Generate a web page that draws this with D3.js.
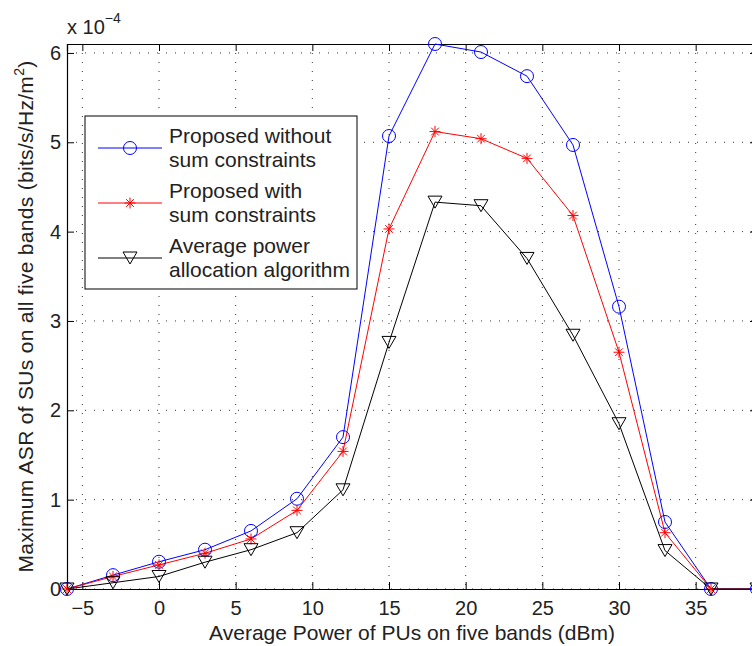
<!DOCTYPE html>
<html><head><meta charset="utf-8">
<script src="https://d3js.org/d3.v7.min.js"></script>
<style>
html,body{margin:0;padding:0;background:#fff;}
svg text{font-family:"Liberation Sans",Arial,Helvetica,sans-serif;fill:#222;}
</style></head>
<body><svg id="c" width="752" height="646"></svg>
<script>
const xValues = [-6,-3,0,3,6,9,12,15,18,21,24,27,30,33,36,39];
const blueValues  = [0,0.155,0.305,0.44,0.65,1.01,1.70,5.07,6.10,6.01,5.74,4.97,3.16,0.75,0,0];
const redValues   = [0,0.14,0.27,0.40,0.56,0.88,1.54,4.03,5.12,5.04,4.82,4.18,2.65,0.63,0,0];
const blackValues = [0,0.07,0.14,0.30,0.44,0.63,1.11,2.76,4.33,4.29,3.70,2.84,1.85,0.43,0,0];
const xTicks = [-5,0,5,10,15,20,25,30,35];
const yTicks = [0,1,2,3,4,5,6];
const seriesNames = [["Proposed without","sum constraints"],["Proposed with","sum constraints"],["Average power","allocation algorithm"]];

const FS = "20px", FL = "21px";
const svg = d3.select("#c");
const L=67, R=757, T=44, B=589;
const x = d3.scaleLinear().domain([-6,39]).range([L,R]);
const y = d3.scaleLinear().domain([0,6.1]).range([B,T]);

// grid
const g = svg.append("g");
g.selectAll(".gx").data(xTicks).enter().append("line")
  .attr("x1",d=>x(d)).attr("x2",d=>x(d)).attr("y1",T).attr("y2",B)
  .attr("stroke","#333").attr("stroke-width",1).attr("stroke-dasharray","1,8");
g.selectAll(".gy").data(yTicks).enter().append("line")
  .attr("x1",L).attr("x2",R).attr("y1",d=>y(d)).attr("y2",d=>y(d))
  .attr("stroke","#333").attr("stroke-width",1).attr("stroke-dasharray","1,8");

// axes
const xb = d3.axisBottom(x).tickValues(xTicks).tickSize(-7).tickPadding(12).tickFormat(d=>d<0?"\u2212"+Math.abs(d):d);
const xt = d3.axisTop(x).tickValues(xTicks).tickSize(-7).tickFormat("");
const yl = d3.axisLeft(y).tickValues(yTicks).tickSize(-7).tickPadding(6).tickFormat(d3.format("d"));
const yr = d3.axisRight(y).tickValues(yTicks).tickSize(-7).tickFormat("");
function style(sel){
  sel.select(".domain").attr("stroke","#000").attr("stroke-width",1.2);
  sel.selectAll(".tick line").attr("stroke","#000");
  sel.selectAll("text").attr("font-size",FS).attr("fill","#222").attr("font-family","'Liberation Sans',Arial,sans-serif");
}
svg.append("g").attr("transform",`translate(0,${B})`).call(xb).call(style);
svg.append("g").attr("transform",`translate(0,${T})`).call(xt).call(style);
svg.append("g").attr("transform",`translate(${L},0)`).call(yl).call(style);
svg.append("g").attr("transform",`translate(${R},0)`).call(yr).call(style);

// lines
const data = [
  {vals:blueValues,color:"#0000ff",m:"circle"},
  {vals:redValues,color:"#ff0000",m:"star"},
  {vals:blackValues,color:"#000000",m:"tri"}
];
const line = d3.line().x((d,i)=>x(xValues[i])).y(d=>y(d));
function marker(sel,type,color){
  if(type==="circle"){
    sel.append("circle").attr("r",6.5).attr("fill","none").attr("stroke",color).attr("stroke-width",1);
  } else if(type==="star"){
    const r=5.5;
    const p = [[0,-r,0,r],[-r,0,r,0],[-r*0.7,-r*0.7,r*0.7,r*0.7],[-r*0.7,r*0.7,r*0.7,-r*0.7]];
    p.forEach(a=>sel.append("line").attr("x1",a[0]).attr("y1",a[1]).attr("x2",a[2]).attr("y2",a[3]).attr("stroke",color).attr("stroke-width",1));
  } else {
    sel.append("path").attr("d","M-7,-6L7,-6L0,6Z").attr("fill","none").attr("stroke",color).attr("stroke-width",1);
  }
}
data.forEach(s=>{
  svg.append("path").datum(s.vals).attr("d",line).attr("fill","none").attr("stroke",s.color).attr("stroke-width",1);
});
data.forEach(s=>{
  s.vals.forEach((v,i)=>{
    const gg = svg.append("g").attr("transform",`translate(${x(xValues[i])},${y(v)})`);
    marker(gg,s.m,s.color);
  });
});

// exponent label
const ex = svg.append("text").attr("x",L).attr("y",34).attr("font-size",FS);
ex.append("tspan").text("x 10");
ex.append("tspan").attr("dy",-11).attr("font-size","14px").text("\u22124");

// axis labels
svg.append("text").attr("x",(L+R)/2).attr("y",640).attr("text-anchor","middle").attr("font-size",FL)
  .text("Average Power of PUs on five bands (dBm)");
const yt = svg.append("text").attr("transform",`translate(33,${(T+B)/2}) rotate(-90)`).attr("text-anchor","middle").attr("font-size",FL).attr("letter-spacing","0.3px");
yt.append("tspan").text("Maximum ASR of SUs on all five bands (bits/s/Hz/m");
yt.append("tspan").attr("dy",-9).attr("font-size","14px").text("2");
yt.append("tspan").attr("dy",9).text(")");

// legend
const lg = svg.append("g");
lg.append("rect").attr("x",85).attr("y",116).attr("width",272).attr("height",173).attr("fill","#fff").attr("stroke","#000").attr("stroke-width",1);
data.forEach((s,i)=>{
  const cy = 148 + i*55;
  lg.append("line").attr("x1",98).attr("x2",162).attr("y1",cy).attr("y2",cy).attr("stroke",s.color).attr("stroke-width",1);
  const mg = lg.append("g").attr("transform",`translate(130,${cy})`);
  marker(mg,s.m,s.color);
  const t = lg.append("text").attr("x",169).attr("y",143+i*55).attr("font-size",FL);
  t.append("tspan").attr("x",169).text(seriesNames[i][0]);
  t.append("tspan").attr("x",169).attr("dy",24).text(seriesNames[i][1]);
});
</script></body></html>
